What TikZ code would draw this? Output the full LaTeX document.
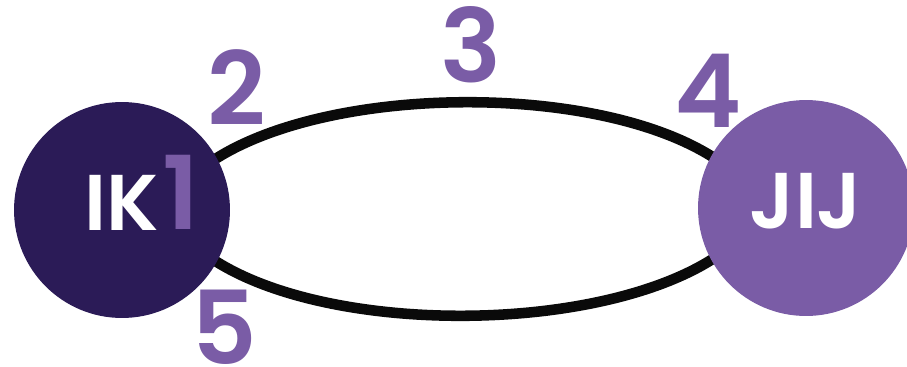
\documentclass[tikz,border=0pt]{standalone}
\usepackage{fontspec}
\setmainfont{Poppins}[BoldFont={Poppins SemiBold}]
\usetikzlibrary{backgrounds}
\definecolor{ikDark}{HTML}{2B1B57}
\definecolor{ikLight}{HTML}{7A5CA6}
\definecolor{ikLine}{HTML}{0A0A0A}

\begin{document}
\begin{tikzpicture}[
    x=0.02cm, y=0.02cm,
    every node/.style={font=\bfseries},
    person/.style={circle, inner sep=0pt, minimum size=4.32cm, text=white,
        font=\bfseries\fontsize{45}{45}\selectfont, text depth=0.28cm},
    numlabel/.style={inner sep=0pt, text=ikLight,
        font=\bfseries\fontsize{58}{58}\selectfont},
    tie/.style={ikLine, line width=6pt, looseness=0.66},
]
\useasboundingbox (0,0) rectangle (907,366);

% ----------------------------------------------------------------------
% The two people
% ----------------------------------------------------------------------
\node[person, fill=ikDark]  (ik)  at (122,156) {IK};
\node[person, fill=ikLight] (jij) at (806,158) {JIJ};

% ----------------------------------------------------------------------
% The two ties between them (behind the circles)
% ----------------------------------------------------------------------
\begin{scope}[on background layer]
\draw[tie, shorten <=-8pt, shorten >=-8pt]
    (ik.29) to[out=36, in=144] (jij.151);
\draw[tie, shorten <=-8pt, shorten >=-8pt]
    (ik.-29) to[out=-36, in=-144] (jij.-151);
\end{scope}

% ----------------------------------------------------------------------
% Numbered positions
% ----------------------------------------------------------------------
\node[numlabel] (n1) at (181,174) {1};
\node[numlabel] (n2) at (237,278) {2};
\node[numlabel] (n3) at (471,321) {3};
\node[numlabel] (n4) at (708,275) {4};
\node[numlabel] (n5) at (224,39)  {5};

\end{tikzpicture}
\end{document}
